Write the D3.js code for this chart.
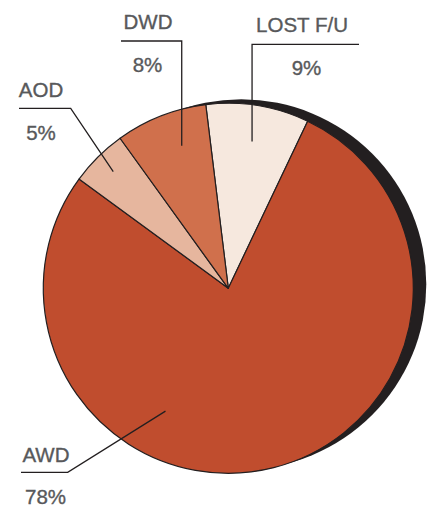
<!DOCTYPE html>
<html><head><meta charset="utf-8">
<script src="https://cdn.jsdelivr.net/npm/d3@7"></script>
<style>html,body{margin:0;padding:0;background:#fff;}svg{display:block;}</style>
</head><body>
<svg id="chart" width="427" height="508"></svg>
<script>
// ---- data ----
const categories = ["LOST F/U", "AWD", "AOD", "DWD"];
const values = [9, 78, 5, 8];
const pctLabels = ["9%", "78%", "5%", "8%"];
const colors = ["#F6E8DE", "#C04D2E", "#E6B69E", "#D0704C"];

// ---- layout (positions only) ----
const cx = 228.3, cy = 288.3, R = 185;
const startDeg = -7;
// leader anchors: fraction within slice and radius
const anchorT = [0.5, 0.647, 0.51, 0.615];
const anchorR = [148.6, 138, 163.8, 150];
// label text positions
const labelPos = [
  {x: 302, y: 32.3, px: 306.5, py: 75, ruleY: 44.3, rx0: null, rx1: 359},
  {x: 46, y: 461.7, px: 45.5, py: 504.3, ruleY: 472.3, rx0: 21, rx1: 67.7},
  {x: 41, y: 96.7, px: 41, py: 140, ruleY: 108.3, rx0: 19, rx1: 70.7},
  {x: 148, y: 29.3, px: 147.5, py: 71.7, ruleY: 41, rx0: 121, rx1: null}
];

const svg = d3.select("#chart");
const rad = d => d * Math.PI / 180;

// shadow
svg.append("circle").attr("cx", cx + 13).attr("cy", cy - 4).attr("r", R).attr("fill", "#231F20");

const pie = d3.pie().sort(null).value(d => d.v)
  .startAngle(rad(startDeg)).endAngle(rad(startDeg) + 2 * Math.PI);
const data = categories.map((c, i) => ({c, v: values[i], i}));
const arcs = pie(data);
const arc = d3.arc().innerRadius(0).outerRadius(R);

const g = svg.append("g").attr("transform", `translate(${cx},${cy})`);
g.selectAll("path").data(arcs).join("path")
  .attr("d", arc)
  .attr("fill", d => colors[d.data.i])
  .attr("stroke", "#231F20").attr("stroke-width", 1.2).attr("stroke-linejoin", "round");

// leaders and labels
arcs.forEach((a, i) => {
  const ang = a.startAngle + anchorT[i] * (a.endAngle - a.startAngle);
  const ex = cx + anchorR[i] * Math.sin(ang);
  const ey = cy - anchorR[i] * Math.cos(ang);
  const L = labelPos[i];
  let pts;
  if (L.rx0 === null) {
    pts = [[ex, ey], [ex, L.ruleY], [L.rx1, L.ruleY]];
  } else if (L.rx1 === null) {
    pts = [[L.rx0, L.ruleY], [ex, L.ruleY], [ex, ey]];
  } else {
    pts = [[L.rx0, L.ruleY], [L.rx1, L.ruleY], [ex, ey]];
  }
  svg.append("path").attr("d", d3.line()(pts))
    .attr("fill", "none").attr("stroke", "#231F20").attr("stroke-width", 1.3);
  [[categories[i], L.x, L.y], [pctLabels[i], L.px, L.py]].forEach(([t, x, y]) => {
    svg.append("text").attr("x", x).attr("y", y).attr("text-anchor", "middle")
      .attr("font-family", "Liberation Sans, Arial, sans-serif").attr("font-size", 20.5)
      .attr("fill", "#58595B").attr("stroke", "#58595B").attr("stroke-width", 0.35)
      .text(t);
  });
});
</script>
</body></html>
